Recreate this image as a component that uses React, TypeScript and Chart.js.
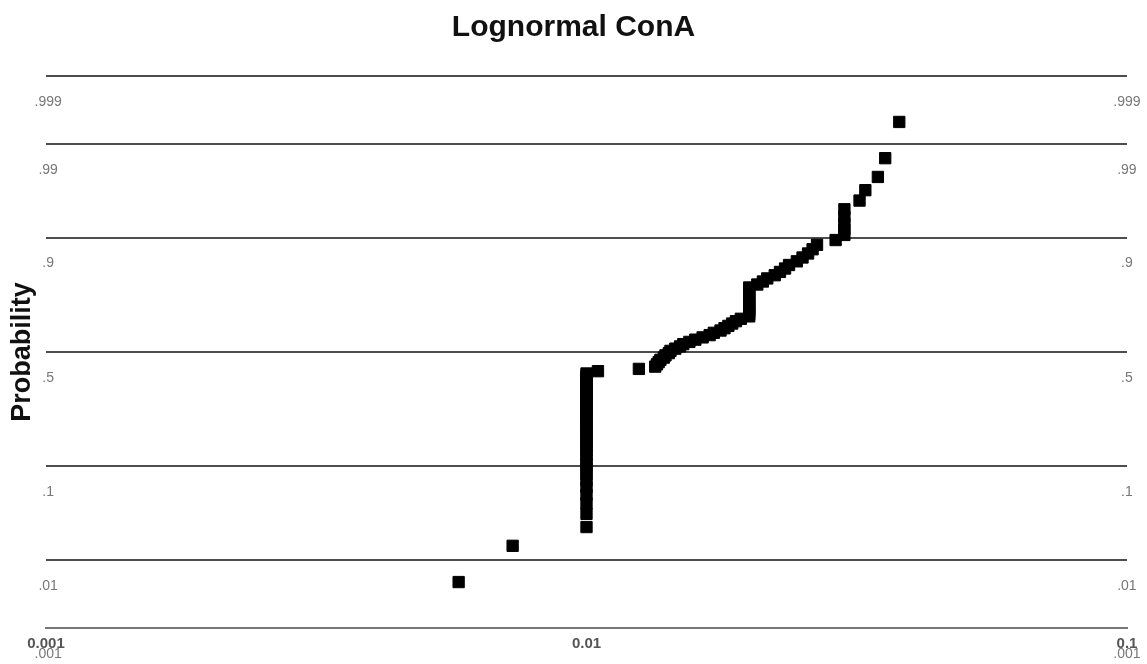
import React, { useEffect, useRef } from 'react';
import { Chart, registerables, Scale } from 'chart.js';

Chart.register(...registerables);

// ---------- data ----------
const chartTitle = 'Lognormal ConA';
const yAxisTitle = 'Probability';

// sorted ConA values (x, log scale)
const conaValues = [
  0.0058, 0.0073,
  0.01, 0.01, 0.01, 0.01, 0.01, 0.01, 0.01, 0.01, 0.01, 0.01,
  0.01, 0.01, 0.01, 0.01, 0.01, 0.01, 0.01, 0.01, 0.01, 0.01,
  0.01, 0.01, 0.01, 0.01, 0.01, 0.01, 0.01, 0.01, 0.01, 0.01,
  0.01, 0.01, 0.01, 0.01, 0.01, 0.01, 0.01, 0.01, 0.01,
  0.0105, 0.0125,
  0.0134, 0.0135, 0.0136, 0.0137, 0.0139, 0.0140, 0.0142, 0.0143, 0.0146, 0.0149,
  0.0151, 0.0155, 0.0159, 0.0164, 0.0169, 0.0172, 0.0177, 0.0180, 0.0183, 0.0186,
  0.0189, 0.0193,
  0.02, 0.02, 0.02, 0.02, 0.02, 0.02, 0.02, 0.02, 0.02, 0.02, 0.02, 0.02,
  0.0207, 0.0212, 0.0216, 0.0223, 0.0228, 0.0233, 0.0237, 0.0245, 0.0251, 0.0257,
  0.0262, 0.0267,
  0.0289,
  0.03, 0.03, 0.03, 0.03, 0.03,
  0.0320, 0.0328, 0.0346, 0.0357, 0.0379,
];

// cumulative probability of each point (y, probability scale)
const plotProbabilities = [
  0.005, 0.015, 0.025, 0.035, 0.045, 0.055, 0.065, 0.075, 0.085, 0.095,
  0.105, 0.115, 0.125, 0.135, 0.145, 0.155, 0.165, 0.175, 0.185, 0.195,
  0.205, 0.215, 0.225, 0.235, 0.245, 0.255, 0.265, 0.275, 0.285, 0.295,
  0.305, 0.315, 0.325, 0.335, 0.345, 0.355, 0.365, 0.375, 0.385, 0.395,
  0.405, 0.415, 0.425, 0.435, 0.445, 0.455, 0.465, 0.475, 0.485, 0.495,
  0.505, 0.515, 0.525, 0.535, 0.545, 0.555, 0.565, 0.575, 0.585, 0.595,
  0.605, 0.615, 0.625, 0.635, 0.645, 0.655, 0.665, 0.675, 0.685, 0.695,
  0.705, 0.715, 0.725, 0.735, 0.745, 0.755, 0.765, 0.775, 0.785, 0.795,
  0.805, 0.815, 0.825, 0.835, 0.845, 0.855, 0.865, 0.875, 0.885, 0.895,
  0.905, 0.915, 0.925, 0.935, 0.945, 0.955, 0.965, 0.975, 0.985, 0.995,
];

const yTickProbs = [0.001, 0.01, 0.1, 0.5, 0.9, 0.99, 0.999];
const yTickLabels = ['.001', '.01', '.1', '.5', '.9', '.99', '.999'];
const xTickValues = [0.001, 0.01, 0.1];
const xTickLabels = ['0.001', '0.01', '0.1'];
const xMin = 0.001;
const xMax = 0.1;
const yMin = 0.001;
const yMax = 0.999;

// ---------- normal probability helpers ----------
function probit(p: number): number {
  const a = [-3.969683028665376e1, 2.209460984245205e2, -2.759285104469687e2, 1.38357751867269e2, -3.066479806614716e1, 2.506628277459239];
  const b = [-5.447609879822406e1, 1.615858368580409e2, -1.556989798598866e2, 6.680131188771972e1, -1.328068155288572e1];
  const c = [-7.784894002430293e-3, -3.223964580411365e-1, -2.400758277161838, -2.549732539343734, 4.374664141464968, 2.938163982698783];
  const d = [7.784695709041462e-3, 3.224671290700398e-1, 2.445134137142996, 3.754408661907416];
  const pl = 0.02425;
  if (p <= 0) return -8;
  if (p >= 1) return 8;
  if (p < pl) {
    const q = Math.sqrt(-2 * Math.log(p));
    return (((((c[0] * q + c[1]) * q + c[2]) * q + c[3]) * q + c[4]) * q + c[5]) /
      ((((d[0] * q + d[1]) * q + d[2]) * q + d[3]) * q + 1);
  }
  if (p <= 1 - pl) {
    const q = p - 0.5;
    const r = q * q;
    return ((((((a[0] * r + a[1]) * r + a[2]) * r + a[3]) * r + a[4]) * r + a[5]) * q) /
      (((((b[0] * r + b[1]) * r + b[2]) * r + b[3]) * r + b[4]) * r + 1);
  }
  const q = Math.sqrt(-2 * Math.log(1 - p));
  return -(((((c[0] * q + c[1]) * q + c[2]) * q + c[3]) * q + c[4]) * q + c[5]) /
    ((((d[0] * q + d[1]) * q + d[2]) * q + d[3]) * q + 1);
}

function normCdf(z: number): number {
  const x = Math.abs(z) / Math.SQRT2;
  const t = 1 / (1 + 0.3275911 * x);
  const y = 1 - (((((1.061405429 * t - 1.453152027) * t) + 1.421413741) * t - 0.284496736) * t + 0.254829592) * t * Math.exp(-x * x);
  return z >= 0 ? 0.5 * (1 + y) : 0.5 * (1 - y);
}

class ProbitScale extends Scale {
  static id = 'probit';
  static defaults = {};
  _zStart: number = 0;
  _zRange: number = 1;
  determineDataLimits() {
    (this as any).min = (this as any).options.min;
    (this as any).max = (this as any).options.max;
  }
  buildTicks() {
    return yTickProbs.map((v) => ({ value: v }));
  }
  getLabelForValue(v: number) {
    return String(v);
  }
  configure() {
    super.configure();
    this._zStart = probit((this as any).min);
    this._zRange = probit((this as any).max) - this._zStart;
  }
  getPixelForValue(v: number) {
    return (this as any).getPixelForDecimal((probit(v) - this._zStart) / this._zRange);
  }
  getValueForPixel(px: number) {
    const dec = (this as any).getDecimalForPixel(px);
    return normCdf(this._zStart + dec * this._zRange);
  }
}
Chart.register(ProbitScale as any);

const SANS = '"Liberation Sans", Arial, sans-serif';

export default function App() {
  const ref = useRef<HTMLCanvasElement | null>(null);

  useEffect(() => {
    document.body.style.margin = '0';
    const canvas = ref.current;
    if (!canvas) return;
    const chart = new Chart(canvas, {
      type: 'scatter',
      data: {
        datasets: [
          {
            label: 'ConA',
            data: conaValues.map((x, i) => ({ x, y: plotProbabilities[i] })),
            pointStyle: 'rect',
            pointRadius: 8,
            backgroundColor: '#000',
            borderColor: '#000',
            borderWidth: 1,
            xAxisID: 'x',
            yAxisID: 'y',
          },
        ],
      },
      options: {
        responsive: false,
        animation: false,
        events: [],
        layout: { padding: 0 },
        plugins: {
          legend: { display: false },
          tooltip: { enabled: false },
          title: {
            display: true,
            text: chartTitle,
            color: '#111',
            font: { family: SANS, size: 30, weight: 'bold' },
            padding: { top: 10, bottom: 30 },
          },
        },
        scales: {
          x: {
            type: 'logarithmic',
            position: 'bottom',
            min: xMin,
            max: xMax,
            afterBuildTicks: (axis: any) => {
              axis.ticks = xTickValues.map((v) => ({ value: v }));
            },
            afterFit: (axis: any) => {
              axis.height = 36;
            },
            grid: { display: false, drawTicks: false },
            border: { display: true, color: '#777', width: 2 },
            ticks: {
              autoSkip: false,
              maxRotation: 0,
              padding: 7,
              color: '#555',
              font: { family: SANS, size: 15, weight: 'bold' },
              callback: (_v: any, i: number) => xTickLabels[i],
            },
          },
          y: {
            type: 'probit' as any,
            position: 'left',
            min: yMin,
            max: yMax,
            afterFit: (axis: any) => {
              axis.width = 46;
            },
            grid: { display: true, drawTicks: false, color: '#4d4d4d', lineWidth: 2 },
            border: { display: false },
            title: {
              display: true,
              text: yAxisTitle,
              color: '#111',
              font: { family: SANS, size: 27, weight: 'bold' },
              padding: { top: 6, bottom: 0 },
            },
            ticks: {
              autoSkip: false,
              mirror: true,
              crossAlign: 'center',
              padding: -11.5,
              labelOffset: 26,
              color: '#777',
              font: { family: SANS, size: 14 },
              callback: (_v: any, i: number) => yTickLabels[i],
            },
          } as any,
          y2: {
            type: 'probit' as any,
            position: 'right',
            display: true,
            min: yMin,
            max: yMax,
            afterFit: (axis: any) => {
              axis.width = 20;
            },
            grid: { display: false, drawTicks: false },
            border: { display: false },
            ticks: {
              autoSkip: false,
              mirror: true,
              crossAlign: 'center',
              padding: 13.5,
              labelOffset: 26,
              color: '#777',
              font: { family: SANS, size: 14 },
              callback: (_v: any, i: number) => yTickLabels[i],
            },
          } as any,
        },
      } as any,
    });
    return () => chart.destroy();
  }, []);

  return (
    <div style={{ width: 1147, height: 664, background: '#fff' }}>
      <canvas ref={ref} width={1147} height={664} style={{ display: 'block' }} />
    </div>
  );
}
